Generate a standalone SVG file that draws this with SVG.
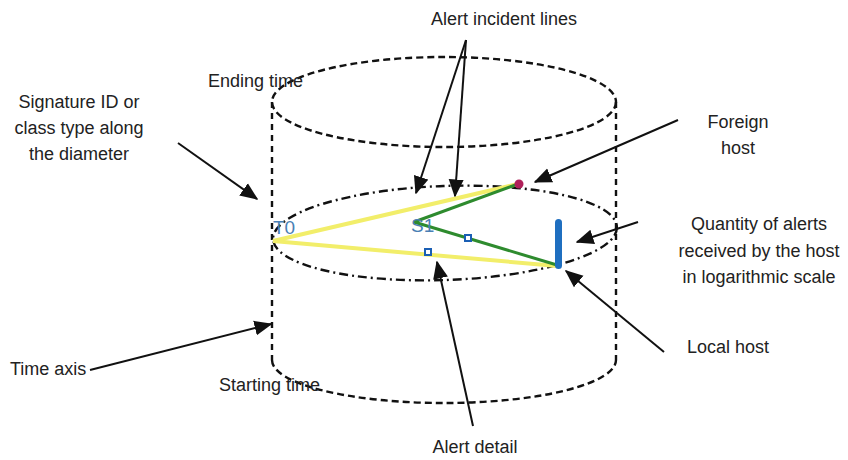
<svg xmlns="http://www.w3.org/2000/svg" width="848" height="460" viewBox="0 0 848 460">
  <style>
    .lbl { font-family: "Liberation Sans", Arial, sans-serif; font-size: 18px; fill: #222; }
    .mid { text-anchor: middle; }
    .dash { fill: none; stroke: #111; stroke-width: 2.4; stroke-dasharray: 7 4; }
    .vdash { fill: none; stroke: #111; stroke-width: 2.4; stroke-dasharray: 6 5; }
    .dashdot { fill: none; stroke: #111; stroke-width: 2.4; stroke-dasharray: 9 4 2 4; }
    .ptr { fill: none; stroke: #111; stroke-width: 2; marker-end: url(#head); }
    .yellow { stroke: #f2ee6a; stroke-width: 4; fill: none; }
    .green { stroke: #2e8b2e; stroke-width: 3; fill: none; }
    .sym { font-family: "Liberation Sans", Arial, sans-serif; font-size: 19px; fill: #4a7fb5; }
    .detail { fill: #fff; stroke: #1a5fb4; stroke-width: 2; }
  </style>
  <defs>
    <marker id="head" viewBox="0 0 12 10" refX="11" refY="5" markerWidth="9" markerHeight="8" markerUnits="strokeWidth" orient="auto">
      <path d="M0,0 L12,5 L0,10 Z" fill="#111"/>
    </marker>
  </defs>

  <rect width="848" height="460" fill="#fff"/>

  <!-- cylinder: top and bottom time planes, time axis walls -->
  <g id="cylinder">
    <ellipse class="dash" cx="444" cy="102" rx="172" ry="45"/>
    <line class="vdash" x1="272" y1="102" x2="272" y2="360"/>
    <line class="vdash" x1="616" y1="102" x2="616" y2="360"/>
    <path class="dash" d="M272,360 A172,43 0 0 0 616,360"/>
    <ellipse class="dashdot" cx="445" cy="233" rx="172" ry="47" transform="rotate(-2 445 233)"/>
  </g>

  <!-- alert incident lines -->
  <g id="incident-lines">
    <line class="yellow" x1="273" y1="241" x2="518" y2="184"/>
    <line class="yellow" x1="273" y1="241" x2="557" y2="266"/>
    <line class="green" x1="414" y1="222" x2="518" y2="184"/>
    <line class="green" x1="414" y1="222" x2="557" y2="265"/>
  </g>

  <g id="t0"><text class="sym" x="273" y="234">T0</text></g>
  <g id="s1"><text class="sym" x="411" y="232">S1</text></g>

  <g id="foreign-host-dot"><circle cx="519" cy="184" r="4.5" fill="#b0205a"/></g>
  <g id="local-host-bar"><rect x="555" y="219" width="7" height="50" rx="3.5" fill="#1f6fc0"/></g>

  <g id="alert-details">
    <rect class="detail" x="465" y="235" width="6" height="6"/>
    <rect class="detail" x="425" y="249" width="6" height="6"/>
  </g>

  <!-- pointer arrows from the annotations -->
  <g id="connectors">
    <line class="ptr" x1="466" y1="40" x2="416" y2="193"/>
    <line class="ptr" x1="466" y1="40" x2="455" y2="196"/>
    <line class="ptr" x1="178" y1="143" x2="257" y2="199"/>
    <line class="ptr" x1="678" y1="120" x2="535" y2="182"/>
    <line class="ptr" x1="638" y1="222" x2="577" y2="242"/>
    <line class="ptr" x1="664" y1="352" x2="566" y2="271"/>
    <line class="ptr" x1="90" y1="370" x2="271" y2="324"/>
    <line class="ptr" x1="473" y1="426" x2="437" y2="262"/>
  </g>

  <!-- annotation labels -->
  <g id="label-incident"><text class="lbl mid" x="504" y="25">Alert incident lines</text></g>
  <g id="label-ending"><text class="lbl" x="208" y="87">Ending time</text></g>
  <g id="label-signature">
    <text class="lbl mid" x="79" y="108">Signature ID or</text>
    <text class="lbl mid" x="79" y="134">class type along</text>
    <text class="lbl mid" x="79" y="160">the diameter</text>
  </g>
  <g id="label-foreign">
    <text class="lbl mid" x="738" y="128">Foreign</text>
    <text class="lbl mid" x="738" y="154">host</text>
  </g>
  <g id="label-quantity">
    <text class="lbl mid" x="759" y="230">Quantity of alerts</text>
    <text class="lbl mid" x="759" y="257">received by the host</text>
    <text class="lbl mid" x="759" y="283">in logarithmic scale</text>
  </g>
  <g id="label-local"><text class="lbl" x="687" y="353">Local host</text></g>
  <g id="label-time-axis"><text class="lbl" x="10" y="375">Time axis</text></g>
  <g id="label-starting"><text class="lbl" x="219" y="391">Starting time</text></g>
  <g id="label-detail"><text class="lbl mid" x="475" y="453">Alert detail</text></g>
</svg>
